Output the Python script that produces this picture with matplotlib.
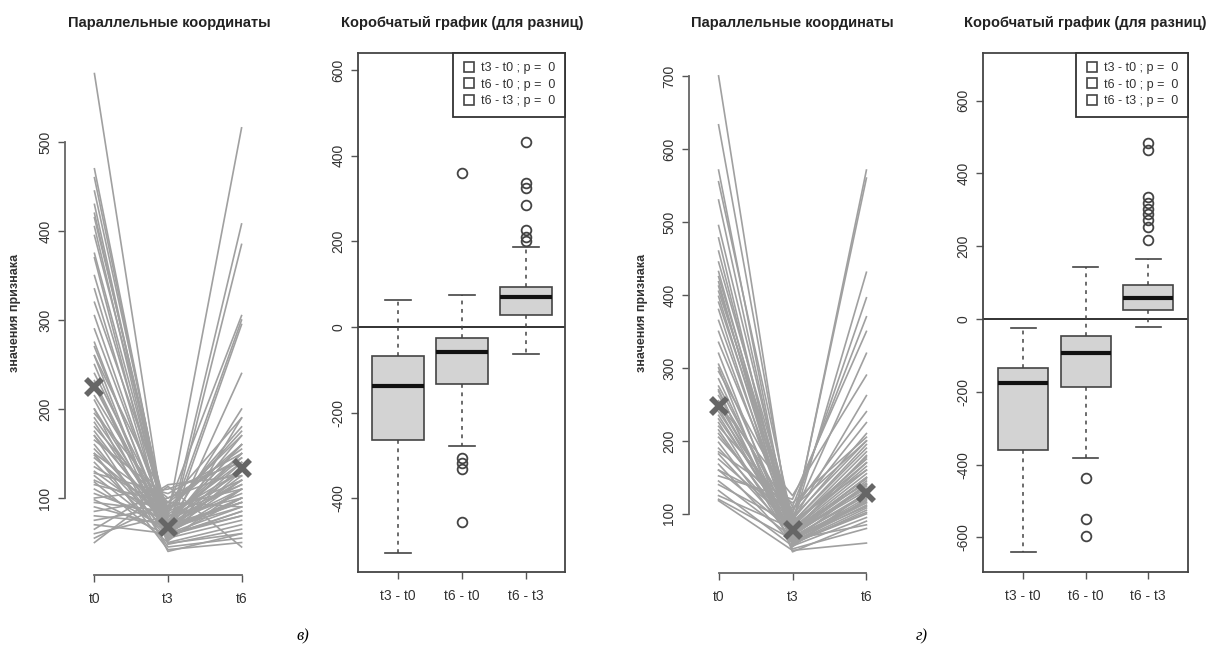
import numpy as np
import matplotlib
matplotlib.use("Agg")
import matplotlib.pyplot as plt
from matplotlib.lines import Line2D

plt.rcParams['font.family'] = ['Liberation Sans', 'DejaVu Sans']
plt.rcParams['axes.unicode_minus'] = False

# --- parallel coordinates, panel "в)": (t0, t3, t6) per subject
par_v = [
    (577, 49, 60), (470, 60, 408), (460, 62, 120), (445, 70, 95), (430, 55, 385),
    (420, 65, 140), (415, 75, 150), (405, 58, 130), (395, 80, 516), (375, 68, 300),
    (370, 52, 110), (350, 72, 160), (335, 60, 295), (320, 85, 180), (305, 66, 90),
    (290, 70, 170), (275, 58, 240), (270, 64, 125), (260, 90, 305), (250, 55, 100),
    (240, 75, 145), (232, 62, 135), (225, 70, 200), (215, 80, 115), (210, 57, 85),
    (200, 68, 150), (195, 95, 190), (190, 72, 160), (185, 60, 110), (180, 85, 175),
    (175, 66, 95), (170, 75, 130), (165, 100, 145), (160, 58, 80), (155, 70, 120),
    (150, 90, 170), (148, 62, 100), (145, 78, 140), (140, 55, 75), (135, 88, 160),
    (130, 70, 110), (128, 105, 150), (125, 60, 90), (120, 82, 130), (118, 50, 70),
    (115, 95, 155), (110, 65, 100), (105, 75, 115), (100, 110, 140), (98, 58, 85),
    (95, 85, 120), (90, 68, 95), (85, 100, 130), (80, 72, 105), (75, 90, 110),
    (70, 60, 80), (65, 115, 125), (60, 80, 100), (55, 95, 90), (50, 113, 45),
    (200, 40, 60), (170, 45, 55), (150, 42, 50), (260, 48, 65), (230, 52, 190),
]
mean_v = [225, 67, 134]

# --- parallel coordinates, panel "г)"
par_g = [
    (700, 62, 140), (633, 75, 180), (571, 58, 120), (555, 90, 160), (530, 66, 110),
    (495, 80, 571), (478, 55, 130), (460, 72, 150), (445, 95, 200), (432, 68, 125),
    (425, 85, 431), (418, 60, 100), (412, 78, 170), (405, 100, 396), (398, 70, 140),
    (390, 88, 190), (380, 64, 115), (365, 82, 560), (350, 74, 135), (335, 92, 210),
    (320, 58, 105), (305, 76, 155), (295, 110, 370), (285, 68, 128), (275, 86, 175),
    (268, 62, 112), (262, 98, 225), (255, 72, 145), (250, 80, 165), (245, 66, 118),
    (240, 90, 262), (235, 74, 150), (230, 84, 185), (225, 60, 108), (220, 105, 240),
    (215, 70, 138), (210, 78, 160), (205, 94, 320), (198, 64, 122), (190, 82, 178),
    (182, 72, 132), (175, 88, 195), (168, 60, 102), (160, 76, 148), (152, 120, 350),
    (145, 68, 116), (140, 86, 170), (132, 56, 95), (125, 80, 142), (118, 50, 60),
    (120, 65, 85), (300, 48, 90), (270, 52, 80), (250, 125, 290), (185, 115, 205),
    (160, 108, 200),
]
mean_g = [248, 78, 129]

time_labels = ['t0', 't3', 't6']
diff_labels = ['t3 - t0', 't6 - t0', 't6 - t3']
legend_labels = ['t3 - t0 ; p =  0', 't6 - t0 ; p =  0', 't6 - t3 ; p =  0']

# box statistics (whislo, q1, med, q3, whishi, fliers)
box_v = [
    (-528, -264, -138, -68, 63, []),
    (-278, -133, -58, -26, 75, [-305, -318, -332, -455, 360]),
    (-62, 28, 71, 94, 187, [201, 210, 227, 285, 325, 336, 432]),
]
box_g = [
    (-640, -360, -176, -135, -25, []),
    (-382, -187, -93, -47, 143, [-437, -550, -596]),
    (-22, 25, 58, 93, 165, [217, 253, 272, 290, 302, 318, 335, 464, 483]),
]

W, H = 1207, 646
fig = plt.figure(figsize=(W / 100, H / 100), dpi=100)


def px_axes(left, top, right, bottom):
    return fig.add_axes([left / W, 1 - bottom / H, (right - left) / W, (bottom - top) / H])


def style_ticks(ax):
    ax.tick_params(length=5, width=1, color='#555555', labelcolor='#333333',
                   labelsize=10)
    ax.tick_params(axis='x', pad=7)
    ax.tick_params(axis='y', pad=4)
    for lab in ax.get_yticklabels():
        lab.set_rotation(90)
        lab.set_va('center')


def parcoord(ax, rows, means, ylim, yticks):
    for r in rows:
        ax.plot([0, 1, 2], r, color='#A0A0A0', lw=1.2, zorder=1)
    ax.plot([0, 1, 2], means, ls='none', marker='x', ms=12, mew=4,
            color='#666666', zorder=3)
    ax.set_xlim(-0.4, 2.4)
    ax.set_ylim(*ylim)
    ax.set_xticks([0, 1, 2])
    ax.set_xticklabels(time_labels)
    ax.set_yticks(yticks)
    for s in ['top', 'right']:
        ax.spines[s].set_visible(False)
    ax.spines['left'].set_bounds(yticks[0], yticks[-1])
    ax.spines['bottom'].set_bounds(0, 2)
    for s in ['left', 'bottom']:
        ax.spines[s].set_color('#666666')
        ax.spines[s].set_linewidth(1.3)
    style_ticks(ax)


def boxes(ax, data, xlim, ylim, yticks):
    stats = []
    for lo, q1, med, q3, hi, fl in data:
        stats.append(dict(whislo=lo, q1=q1, med=med, q3=q3, whishi=hi, fliers=fl))
    ax.axhline(0, color='#222222', lw=1.3, zorder=1)
    ax.bxp(stats, positions=[1, 2, 3], widths=0.8, capwidths=0.4, patch_artist=True,
           boxprops=dict(facecolor='#D3D3D3', edgecolor='#444444', lw=1.2),
           medianprops=dict(color='#111111', lw=3),
           whiskerprops=dict(color='#444444', lw=1.1, ls=(0, (2.5, 3))),
           capprops=dict(color='#444444', lw=1.2),
           flierprops=dict(marker='o', mfc='none', mec='#444444', ms=7, mew=1.3))
    ax.set_xlim(*xlim)
    ax.set_ylim(*ylim)
    ax.set_xticks([1, 2, 3])
    ax.set_xticklabels(diff_labels)
    ax.set_yticks(yticks)
    for s in ax.spines.values():
        s.set_color('#444444')
        s.set_linewidth(1.3)
    handles = [Line2D([], [], ls='none', marker='s', mfc='none', mec='#444444',
                      ms=6.5, mew=1.2) for _ in legend_labels]
    leg = ax.legend(handles, legend_labels, loc='upper right', fontsize=9,
                    frameon=True, fancybox=False, borderaxespad=0, framealpha=1,
                    handletextpad=0.5, handlelength=1.0, labelspacing=0.35,
                    borderpad=0.75)
    leg.get_frame().set_edgecolor('#333333')
    leg.get_frame().set_linewidth(1.3)
    for t in leg.get_texts():
        t.set_color('#333333')
    style_ticks(ax)


ax1 = px_axes(65, 54, 271, 575)
parcoord(ax1, par_v, mean_v, (13.5, 599), [100, 200, 300, 400, 500])

ax2 = px_axes(358, 53, 565, 572)
boxes(ax2, box_v, (0.375, 3.61), (-572, 640), [-400, -200, 0, 200, 400, 600])

ax3 = px_axes(689, 54, 896, 573)
parcoord(ax3, par_g, mean_g, (19, 730), [100, 200, 300, 400, 500, 600, 700])

ax4 = px_axes(983, 53, 1188, 572)
boxes(ax4, box_g, (0.36, 3.64), (-695, 731), [-600, -400, -200, 0, 200, 400, 600])

title_par = 'Параллельные координаты'
title_box = 'Коробчатый график (для разниц)'
for xc, txt in [(169, title_par), (462, title_box), (792, title_par), (1085, title_box)]:
    fig.text(xc / W, 1 - 23 / H, txt, ha='center', va='center', fontsize=10.5,
             fontweight='bold', color='#222222')

for xc in [15, 642]:
    fig.text(xc / W, 1 - 313 / H, 'значения признака', ha='center', va='center',
             rotation=90, fontsize=9, fontweight='bold', color='#333333')

for xc, txt in [(303, 'в)'), (922, 'г)')]:
    fig.text(xc / W, 1 - 636 / H, txt, ha='center', va='center', fontsize=12,
             style='italic', family=['Liberation Serif', 'DejaVu Serif'])

fig.savefig('out.png', dpi=100)
